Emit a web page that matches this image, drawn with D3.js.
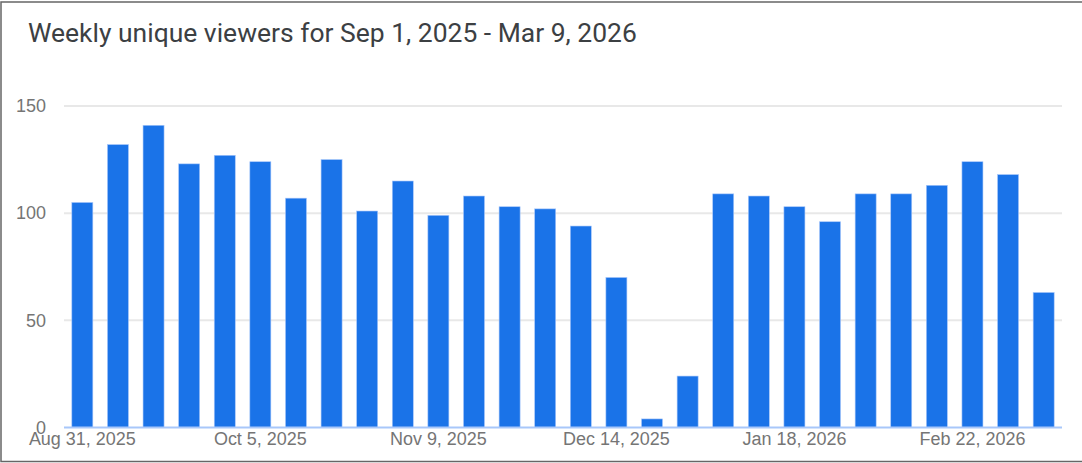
<!DOCTYPE html>
<html>
<head>
<meta charset="utf-8">
<script src="https://cdn.jsdelivr.net/npm/d3@7"></script>
<style>
  body { margin: 0; background: #fff; }
  text { font-family: Roboto, Arial, sans-serif; }
</style>
</head>
<body>
<div id="chart"></div>
<script>
var svgWidth = 1082;
var svgHeight = 463;

var titleText = "Weekly unique viewers for Sep 1, 2025 - Mar 9, 2026";

// one bar per week, starting Sunday Aug 31, 2025
var weeks = [
  "Aug 31, 2025", "Sep 7, 2025", "Sep 14, 2025", "Sep 21, 2025", "Sep 28, 2025",
  "Oct 5, 2025", "Oct 12, 2025", "Oct 19, 2025", "Oct 26, 2025", "Nov 2, 2025",
  "Nov 9, 2025", "Nov 16, 2025", "Nov 23, 2025", "Nov 30, 2025", "Dec 7, 2025",
  "Dec 14, 2025", "Dec 21, 2025", "Dec 28, 2025", "Jan 4, 2026", "Jan 11, 2026",
  "Jan 18, 2026", "Jan 25, 2026", "Feb 1, 2026", "Feb 8, 2026", "Feb 15, 2026",
  "Feb 22, 2026", "Mar 1, 2026", "Mar 8, 2026"
];
var viewers = [
  105, 132, 141, 123, 127, 124, 107, 125, 101, 115,
  99, 108, 103, 102, 94, 70, 4, 24, 109, 108,
  103, 96, 109, 109, 113, 124, 118, 63
];
var xTickLabels = ["Aug 31, 2025", "Oct 5, 2025", "Nov 9, 2025", "Dec 14, 2025", "Jan 18, 2026", "Feb 22, 2026"];
var yTicks = [0, 50, 100, 150];

var margin = { top: 0, right: 20, bottom: 0, left: 64 };
var plotTop = 106;      // y of the 150 gridline
var plotBottom = 427.5; // y of the baseline
var plotRight = 1062;
var tickFont = "'Liberation Sans', Arial, sans-serif";

var svg = d3.select("#chart")
  .append("svg")
  .attr("width", svgWidth)
  .attr("height", svgHeight);

// frame around the card
svg.append("rect")
  .attr("x", 1)
  .attr("y", 2)
  .attr("width", svgWidth + 4)
  .attr("height", svgHeight - 3.5)
  .attr("fill", "none")
  .attr("stroke", "#666")
  .attr("stroke-width", 1.5);

// title, fitted to the measured width
var title = svg.append("text")
  .attr("x", 28)
  .attr("y", 42)
  .attr("fill", "#3c4043")
  .style("font-size", "20px")
  .text(titleText);
var tw = title.node().getComputedTextLength();
title.style("font-size", (20 * 609 / tw) + "px");

// tick label size, fitted so "Aug 31, 2025" is about 107px wide
var probe = svg.append("text")
  .style("font-family", tickFont)
  .style("font-size", "17px")
  .text(xTickLabels[0]);
var tickSize = 17 * 107 / probe.node().getComputedTextLength();
probe.remove();

var x = d3.scaleBand()
  .domain(weeks)
  .range([margin.left, plotRight])
  .paddingInner(0.41)
  .paddingOuter(0.22);

var y = d3.scaleLinear()
  .domain([0, 150])
  .range([plotBottom, plotTop]);

// gridlines
svg.append("g")
  .selectAll("line")
  .data(yTicks.filter(function(d) { return d > 0; }))
  .enter()
  .append("line")
  .attr("x1", margin.left)
  .attr("x2", plotRight)
  .attr("y1", function(d) { return y(d); })
  .attr("y2", function(d) { return y(d); })
  .attr("stroke", "#e8e8e8")
  .attr("stroke-width", 2);

// y tick labels
var leftAxis = d3.axisLeft(y).tickValues(yTicks).tickSize(0).tickPadding(0);
var yAxis = svg.append("g")
  .attr("transform", "translate(46,0)")
  .call(leftAxis);
yAxis.select(".domain").remove();
yAxis.selectAll("text")
  .attr("fill", "#757575")
  .style("font-size", tickSize + "px")
  .style("font-family", tickFont);

// bars
svg.append("g")
  .selectAll("rect")
  .data(viewers)
  .enter()
  .append("rect")
  .attr("x", function(d, i) { return x(weeks[i]); })
  .attr("y", function(d) { return y(d); })
  .attr("width", x.bandwidth())
  .attr("height", function(d) { return y(0) - y(d); })
  .attr("fill", "#1a73e8")
  .attr("stroke", "#a8c7fa")
  .attr("stroke-width", 0.6);

// baseline
svg.append("line")
  .attr("x1", margin.left)
  .attr("x2", plotRight)
  .attr("y1", y(0))
  .attr("y2", y(0))
  .attr("stroke", "#a8c7fa")
  .attr("stroke-width", 2);

// x tick labels, every fifth week
var bottomAxis = d3.axisBottom(x).tickValues(xTickLabels).tickSize(0).tickPadding(5);
var xAxis = svg.append("g")
  .attr("transform", "translate(0," + plotBottom + ")")
  .call(bottomAxis);
xAxis.select(".domain").remove();
xAxis.selectAll("text")
  .attr("fill", "#757575")
  .style("font-size", tickSize + "px")
  .style("font-family", tickFont);
</script>
</body>
</html>
